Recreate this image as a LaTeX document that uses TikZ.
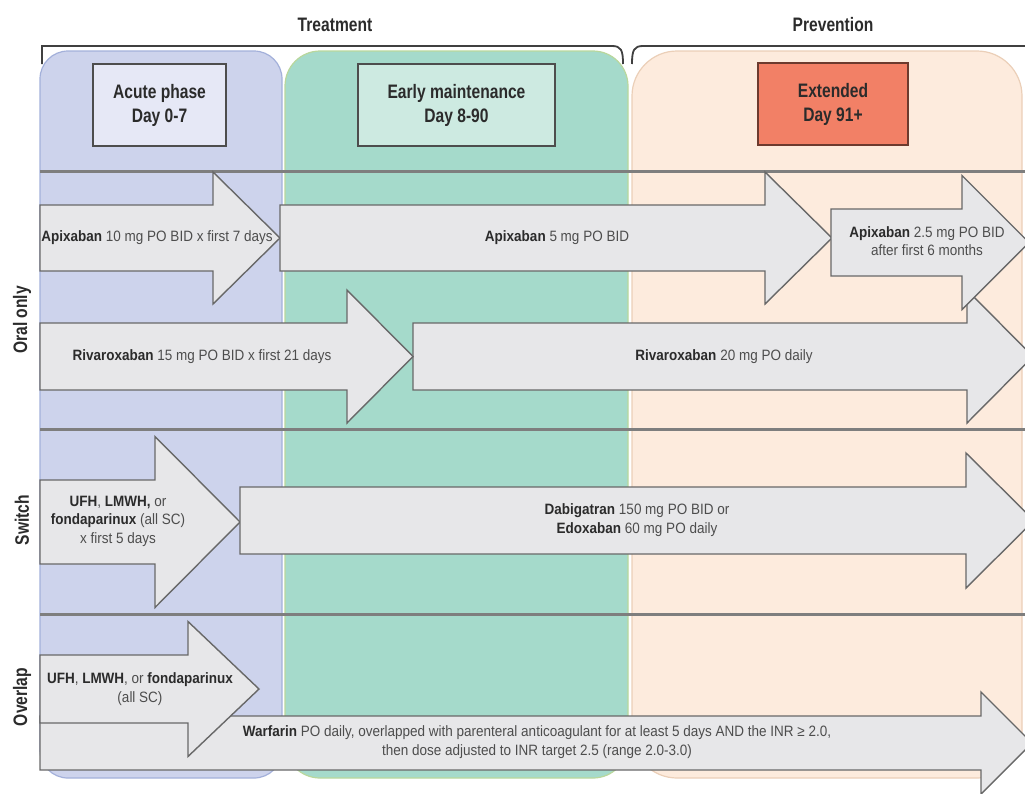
\documentclass[tikz,border=0pt]{standalone}
\usepackage{fontspec}
\setmainfont[FakeStretch=0.9]{Liberation Sans}
\newfontfamily\headfont[FakeStretch=0.8]{Liberation Sans}
\usetikzlibrary{arrows.meta}
\definecolor{Acute}{HTML}{CDD3EC}
\definecolor{AcuteEdge}{HTML}{A3B0DA}
\definecolor{AcuteBox}{HTML}{E6E8F6}
\definecolor{Early}{HTML}{A5DACB}
\definecolor{EarlyEdge}{HTML}{B9D79C}
\definecolor{EarlyBox}{HTML}{CDEAE1}
\definecolor{Extended}{HTML}{FDEBDD}
\definecolor{ExtendedEdge}{HTML}{EBCFB8}
\definecolor{ExtendedBox}{HTML}{F28066}
\definecolor{Shaft}{HTML}{E7E7E9}
\definecolor{Rule}{HTML}{7E7E7E}
\definecolor{Ink}{HTML}{2B2B2B}
\definecolor{Grey}{HTML}{4D4D4D}

\begin{document}
\begin{tikzpicture}[x=1pt,y=-1pt,
    phasebox/.style={draw=#1,line width=1.5pt,minimum height=82pt,align=center,text=Ink,
      font=\headfont\bfseries\fontsize{19.5}{24}\selectfont},
    dosearrow/.style={fill=Shaft,draw=Grey!85,line width=1.4pt,line join=miter},
    dose/.style={align=center,text=Grey,font=\fontsize{15}{18.5}\selectfont},
    rowlabel/.style={rotate=90,text=Ink,font=\headfont\bfseries\fontsize{19.5}{22}\selectfont},
    toplabel/.style={text=Ink,font=\headfont\bfseries\fontsize{19.5}{22}\selectfont},
    sepline/.style={draw=Rule,line width=3pt}]
    \useasboundingbox (0,0) rectangle (1025,793);

    % phase columns
    \filldraw[fill=Acute,draw=AcuteEdge,line width=1.2pt,rounded corners=28pt] (40,51) rectangle (282,778);
    \filldraw[fill=Early,draw=EarlyEdge,line width=1.2pt,rounded corners=35pt] (285,51) rectangle (628,778);
    \filldraw[fill=Extended,draw=ExtendedEdge,line width=1.2pt,rounded corners=45pt] (632,51) rectangle (1022,778);

    \node[phasebox=Grey,fill=AcuteBox,minimum width=133pt] (acute) at (159.5,105) {Acute phase\\Day 0-7};
    \node[phasebox=Grey,fill=EarlyBox,minimum width=197pt] (early) at (456.5,105) {Early maintenance\\Day 8-90};
    \node[phasebox=ExtendedBox!45!black,fill=ExtendedBox,minimum width=150pt] (extended) at (833,104) {Extended\\Day 91+};

    \foreach \y in {171,429,614}{\draw[sepline] (40,\y) -- (1025,\y);}

    % block arrows: tail x / shaft top / shaft bottom / head x / half head / tip x
    \foreach \xa/\yt/\yb/\xh/\hh/\xt in {40/205/271/213/66/280, 280/205/271/765/66/832,
        413/323/390/967/66.5/1033, 831/209/276/962/67/1029, 40/323/390/347/66.5/413,
        40/480/564/155/85.5/240, 240/487/554/966/67.5/1034,
        40/716/770/981/51/1032, 40/655/723/188/67.5/259}{
      \pgfmathsetmacro\ym{(\yt+\yb)/2}
      \filldraw[dosearrow] (\xa,\yt) -- (\xh,\yt) -- (\xh,\ym-\hh) -- (\xt,\ym)
        -- (\xh,\ym+\hh) -- (\xh,\yb) -- (\xa,\yb) -- cycle;
    }

    \node[dose] (apx10) at (157,238) {\textcolor{Ink}{\textbf{Apixaban}} 10 mg PO BID x first 7 days};
    \node[dose] (apx5) at (557,238) {\textcolor{Ink}{\textbf{Apixaban}} 5 mg PO BID};
    \node[dose] (apx25) at (927,241) {\textcolor{Ink}{\textbf{Apixaban}} 2.5 mg PO BID\\after first 6 months};
    \node[dose] (riv15) at (202,357) {\textcolor{Ink}{\textbf{Rivaroxaban}} 15 mg PO BID x first 21 days};
    \node[dose] (riv20) at (724,357) {\textcolor{Ink}{\textbf{Rivaroxaban}} 20 mg PO daily};
    \node[dose] (parsw) at (118,521) {\textcolor{Ink}{\textbf{UFH}}, \textcolor{Ink}{\textbf{LMWH,}} or\\\textcolor{Ink}{\textbf{fondaparinux}} (all SC)\\x first 5 days};
    \node[dose] (dabi) at (637,520) {\textcolor{Ink}{\textbf{Dabigatran}} 150 mg PO BID or\\\textcolor{Ink}{\textbf{Edoxaban}} 60 mg PO daily};
    \node[dose] (warf) at (537,742) {\textcolor{Ink}{\textbf{Warfarin}} PO daily, overlapped with parenteral anticoagulant for at least 5 days AND the INR ≥ 2.0,\\then dose adjusted to INR target 2.5 (range 2.0-3.0)};
    \node[dose] (parov) at (140,689) {\textcolor{Ink}{\textbf{UFH}}, \textcolor{Ink}{\textbf{LMWH}}, or \textcolor{Ink}{\textbf{fondaparinux}}\\(all SC)};

    \node[rowlabel] (oral) at (22,320) {Oral only};
    \node[rowlabel] (switch) at (22,520) {Switch};
    \node[rowlabel] (overlap) at (22,697) {Overlap};

    % brackets over the phases
    \node[toplabel] (treat) at (335,25) {Treatment};
    \node[toplabel] (prev) at (833,25) {Prevention};
    \draw[Ink!90,line width=1.8pt] (42,64) -- (42,46) -- (612,46) .. controls (621,46) and (623,50) .. (623,64);
    \draw[Ink!90,line width=1.8pt] (632,64) .. controls (632,50) and (634,46) .. (643,46) -- (1030,46);
\end{tikzpicture}
\end{document}
